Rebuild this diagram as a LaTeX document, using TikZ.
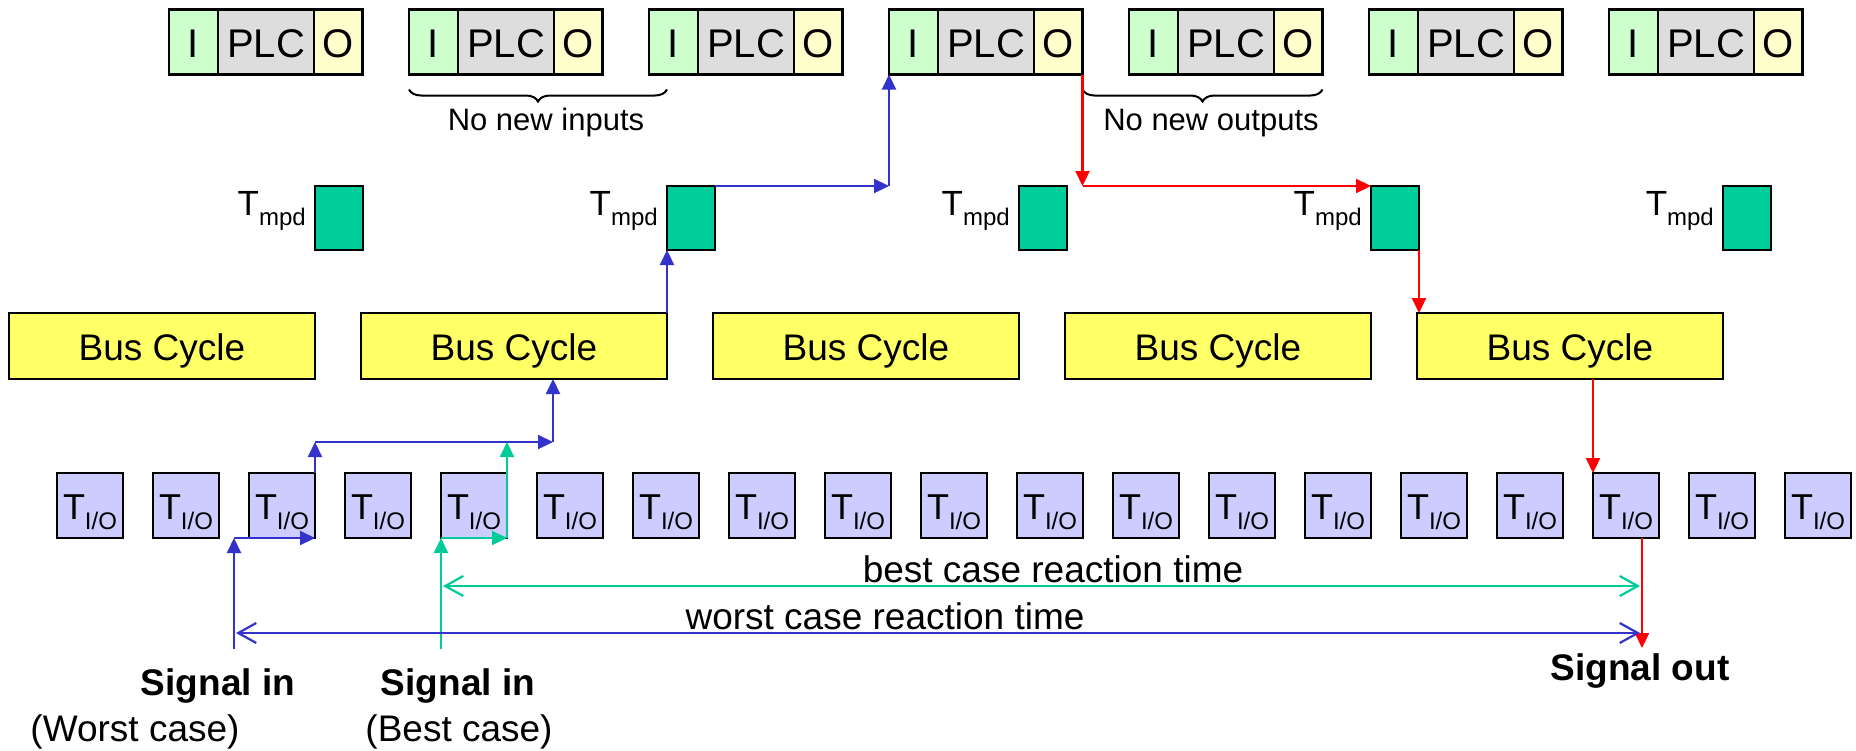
\documentclass[tikz,border=0pt]{standalone}
\usepackage{fontspec}
\setmainfont{Liberation Sans}
\usetikzlibrary{arrows.meta,decorations.pathreplacing}

\definecolor{cellI}{HTML}{CCFFCC}
\definecolor{cellP}{HTML}{DDDDDD}
\definecolor{cellO}{HTML}{FFFFCC}
\definecolor{mpdfill}{HTML}{00CC99}
\definecolor{busfill}{HTML}{FFFF66}
\definecolor{iofill}{HTML}{CCCCFF}
\definecolor{lineblue}{HTML}{3333CC}
\definecolor{linegreen}{HTML}{00CC99}
\definecolor{linered}{HTML}{FF0000}

% font size given in points (1pt = one unit of the drawing)
\newcommand{\pxsize}[1]{\fontsize{#1pt}{#1pt}\selectfont}
% lowered subscript for T_I/O and T_mpd
\newcommand{\lowsub}[1]{\raisebox{-10pt}{\pxsize{24}#1}}

\begin{document}
\begin{tikzpicture}[x=1pt,y=-1pt,
  box/.style={draw=black, line width=2.4pt, inner sep=0pt, outer sep=0pt, anchor=north west},
  plccell/.style={box, minimum height=65pt, text height=30pt, text depth=0pt, font=\pxsize{40}},
  icell/.style={plccell, fill=cellI, minimum width=49pt},
  pcell/.style={plccell, fill=cellP, minimum width=96pt},
  ocell/.style={plccell, fill=cellO, minimum width=48.5pt},
  mpdbox/.style={box, fill=mpdfill, minimum width=48pt, minimum height=64pt},
  busbox/.style={box, fill=busfill, minimum width=306pt, minimum height=66pt,
    text height=28pt, text depth=0pt, font=\pxsize{37}},
  iobox/.style={box, fill=iofill, minimum width=66pt, minimum height=65pt,
    text height=32pt, text depth=5pt, font=\pxsize{36}},
  conn/.style={line width=2.2pt, -{Triangle[length=15pt,width=14pt]}},
  bconn/.style={conn, draw=lineblue},
  gconn/.style={conn, draw=linegreen},
  rconn/.style={conn, draw=linered},
  dimline/.style={line width=2.2pt, shorten <=2pt, shorten >=2pt,
    {Straight Barb[length=18pt,width=20pt]}-{Straight Barb[length=18pt,width=20pt]}},
  curly/.style={line width=2pt, decorate, decoration={brace, mirror, amplitude=12pt}},
  lbl/.style={inner sep=0pt, anchor=base},
]
\useasboundingbox (0,0) rectangle (1856,750);

% PLC cycles: input, program, output
\foreach \k in {1,...,7} {
  \pgfmathsetmacro\La{169+240*(\k-1)}
  \pgfmathsetmacro\Lb{\La+49}
  \pgfmathsetmacro\Lc{\La+145}
  \node[icell] (i\k) at (\La,9.5) {I};
  \node[pcell] (p\k) at (\Lb,9.5) {PLC};
  \node[ocell] (o\k) at (\Lc,9.5) {O};
}

% master processing delay boxes and bus cycles
\foreach \k in {1,...,5} {
  \pgfmathsetmacro\La{315+352*(\k-1)}
  \pgfmathsetmacro\Lb{\La-9}
  \pgfmathsetmacro\Lc{\La-306}
  \node[mpdbox] (m\k) at (\La,186) {};
  \node[lbl, anchor=base east, font=\pxsize{35}] at (\Lb,215) {T\lowsub{mpd}};
  \node[busbox] (b\k) at (\Lc,313) {Bus Cycle};
}

% I/O update cycles
\foreach \k in {1,...,19} {
  \pgfmathsetmacro\La{57+96*(\k-1)}
  \node[iobox] (t\k) at (\La,473) {T\lowsub{I/O}};
}

% braces
\draw[curly] ([yshift=-15pt]i2.south west) -- ([xshift=18pt,yshift=-15pt]i3.south west);
\draw[curly] ([yshift=-15pt]o4.south east) -- ([yshift=-15pt]o5.south east);
\node[lbl, font=\pxsize{31}] at (546,130) {No new inputs};
\node[lbl, font=\pxsize{31}] at (1211,130) {No new outputs};

% free ends of the signal paths
\coordinate (wIn) at (234,649);
\coordinate (bIn) at (t5.south west |- wIn);
\coordinate (wj) at (553,442);
\coordinate (sOut) at (1642,648);
\coordinate (bestY) at (0,586);
\coordinate (worstY) at (0,633);

% worst case path
\draw[bconn] (wIn) -- (wIn |- t3.south);
\draw[bconn] (wIn |- t3.south) -- (t3.south east);
\draw[bconn] (t3.north east) -- (t3.north east |- wj);
\draw[bconn] (t3.north east |- wj) -- (wj);
\draw[bconn] (wj) -- (wj |- b2.south);
\draw[bconn] (b2.north east) -- (b2.north east |- m2.south);
\draw[bconn] (m2.north east) -- (m2.north east -| i4.west);
\draw[bconn] (m2.north east -| i4.west) -- (i4.south west);

% best case path
\draw[gconn] (bIn) -- (t5.south west);
\draw[gconn] (t5.south west) -- (t5.south east);
\draw[gconn] (t5.south east) -- (t5.south east |- wj);

% output path
\draw[rconn] (o4.south east) -- (o4.south east |- m4.north);
\draw[rconn] (o4.south east |- m4.north) -- (m4.north west);
\draw[rconn] (m4.south east) -- (m4.south east |- b5.north);
\draw[rconn] (t17.north west |- b5.south) -- (t17.north west);
\draw[rconn] (sOut |- t17.south) -- (sOut);

% reaction times
\draw[dimline, draw=linegreen] (bIn |- bestY) -- (sOut |- bestY);
\draw[dimline, draw=lineblue] (wIn |- worstY) -- (sOut |- worstY);
\node[lbl, font=\pxsize{37}] at (1053,582) {best case reaction time};
\node[lbl, font=\pxsize{37}] at (885,629) {worst case reaction time};

% signal labels
\node[lbl, font=\bfseries\pxsize{37}] at (218,695) {Signal in};
\node[lbl, font=\pxsize{37}] at (135,741) {(Worst case)};
\node[lbl, font=\bfseries\pxsize{37}] at (458,695) {Signal in};
\node[lbl, font=\pxsize{37}] at (459,741) {(Best case)};
\node[lbl, font=\bfseries\pxsize{37}] at (1640,680) {Signal out};
\end{tikzpicture}
\end{document}
